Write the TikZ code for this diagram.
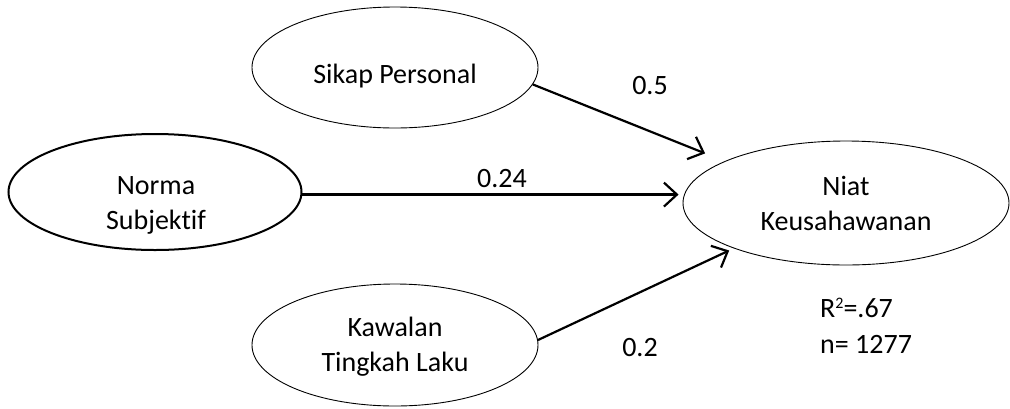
\documentclass[tikz,border=0pt]{standalone}
\usepackage{fontspec}
\setmainfont{Carlito}[Ligatures=NoCommon]
\usetikzlibrary{arrows.meta,calc,shapes.geometric}
\newcommand{\supertwo}{\raisebox{8.5pt}{\fontsize{16}{16}\selectfont 2}}
\begin{document}
\begin{tikzpicture}[x=1pt,y=-1pt,
  oval/.style={draw,ellipse,inner sep=0pt},
  txt/.style={font=\fontsize{28}{35}\selectfont,align=center,inner sep=0pt},
  conn/.style={line width=2.2pt,-{Straight Barb[length=13pt,width=24pt,line width=2.2pt]}},
  lbl/.style={font=\fontsize{28}{35}\selectfont,inner sep=0pt}
]
\useasboundingbox (0,0) rectangle (1010,408);
\node[oval,line width=0.9pt,minimum width=286pt,minimum height=121pt] (sik) at (395,67.5) {};
\node[oval,line width=2pt,minimum width=293pt,minimum height=116pt] (nor) at (155,192) {};
\node[oval,line width=0.9pt,minimum width=326pt,minimum height=124pt] (nia) at (846,203) {};
\node[oval,line width=0.9pt,minimum width=286pt,minimum height=122pt] (kaw) at (395,345) {};
\node[txt] (sikt) at (395,76) {Sikap Personal};
\node[txt] (nort) at (156,205) {Norma\\Subjektif};
\node[txt] (niat) at (846,203) {Niat\\Keusahawanan};
\node[txt] (kawt) at (395,347) {Kawalan\\Tingkah Laku};
\draw[conn,shorten >=21pt] (sik.-7.7) -- (nia.161.4);
\draw[conn,shorten >=4pt] (nor.-1.5) -- (nor.-1.5 -| nia.west);
\draw[conn,shorten >=5pt] (kaw.2.8) -- (nia.-158.3);
\node[lbl] (l1) at (650,86) {0.5};
\node[lbl] (l2) at (502,179) {0.24};
\node[lbl] (l3) at (640,348) {0.2};
\node[lbl,anchor=base west] (r2) at (820,317) {R\supertwo=.67};
\node[lbl,anchor=base west] (nn) at (820,353) {n= 1277};
\end{tikzpicture}
\end{document}
